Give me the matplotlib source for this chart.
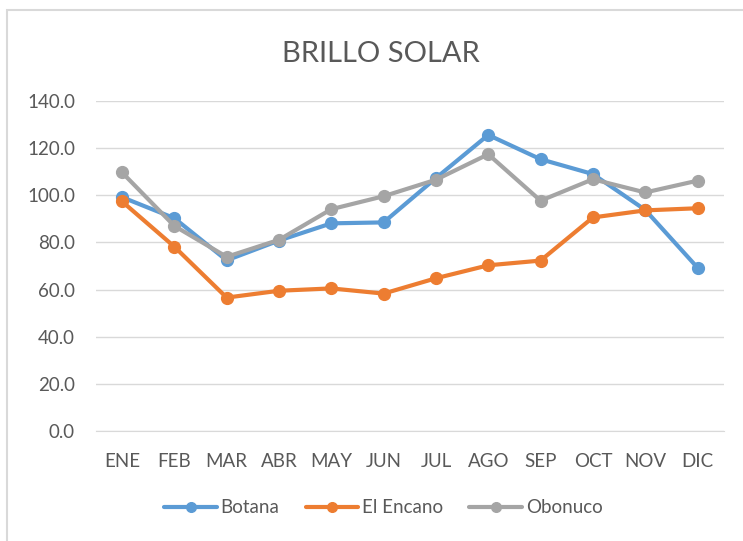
import matplotlib.pyplot as plt
from matplotlib.patches import Rectangle

plt.rcParams['font.family'] = ['Lato', 'DejaVu Sans']

meses = ['ENE', 'FEB', 'MAR', 'ABR', 'MAY', 'JUN', 'JUL', 'AGO', 'SEP', 'OCT', 'NOV', 'DIC']
botana = [99.2, 90.3, 72.4, 80.8, 88.1, 88.5, 107.3, 125.6, 115.3, 109.0, 93.8, 69.3]
el_encano = [97.4, 78.2, 56.6, 59.5, 60.5, 58.3, 64.8, 70.3, 72.3, 90.6, 93.6, 94.5]
obonuco = [109.7, 87.0, 73.9, 81.1, 94.1, 99.6, 106.6, 117.4, 97.7, 106.8, 101.2, 106.2]

series = [('Botana', botana, '#5B9BD5'),
          ('El Encano', el_encano, '#ED7D31'),
          ('Obonuco', obonuco, '#A5A5A5')]

texto = '#595959'
rejilla = '#D9D9D9'

fig = plt.figure(figsize=(7.43, 5.41), dpi=100)
ax = fig.add_axes([0.129, 0.2033, 0.845, 0.61])

# marco del gráfico
fig.patches.append(Rectangle((7 / 743, -0.1), 1.1, 1 - 10 / 541 + 0.1,
                             transform=fig.transFigure, fill=False,
                             edgecolor=rejilla, linewidth=1.5, clip_on=False))

x = range(len(meses))
for nombre, valores, color in series:
    ax.plot(x, valores, color=color, linewidth=3, marker='o', markersize=8.5,
            label=nombre, solid_capstyle='round', solid_joinstyle='round')

ax.set_xlim(-0.5, len(meses) - 0.5)
ax.set_ylim(0, 140)
ax.set_yticks(range(0, 141, 20))
ax.set_yticklabels([f'{v:.1f}' for v in range(0, 141, 20)])
ax.set_xticks(list(x))
ax.set_xticklabels(meses)
ax.tick_params(axis='both', length=0, labelsize=13.5, labelcolor=texto)
ax.tick_params(axis='x', pad=16)
ax.tick_params(axis='y', pad=15)

ax.grid(axis='y', color=rejilla, linewidth=1)
ax.set_axisbelow(True)
for lado in ['top', 'right', 'left']:
    ax.spines[lado].set_visible(False)
ax.spines['bottom'].set_color(rejilla)

fig.text(0.512, 1 - 62 / 541, 'BRILLO SOLAR', ha='center', va='baseline',
         fontsize=21, color=texto)

fig.legend(loc='center', bbox_to_anchor=(0.516, 0.061), ncol=3, frameon=False,
           fontsize=13.5, labelcolor=texto, handlelength=2.8, handletextpad=0.2,
           columnspacing=1.4, markerscale=0.82)

fig.savefig('out.png', dpi=100)
